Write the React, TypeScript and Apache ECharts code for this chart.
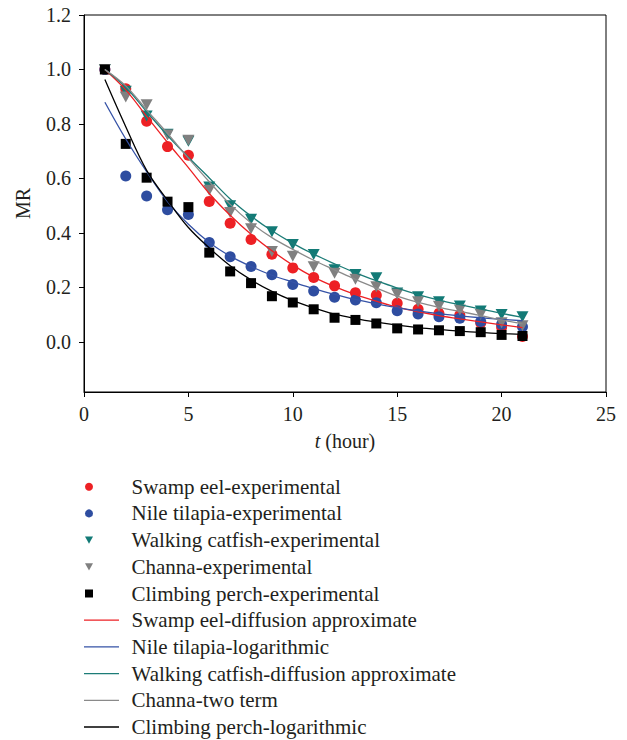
import React, { useEffect, useRef } from "react";
import * as echarts from "echarts";

const FONT = "Liberation Serif";

const hours = [1, 2, 3, 4, 5, 6, 7, 8, 9, 10, 11, 12, 13, 14, 15, 16, 17, 18, 19, 20, 21];

// Experimental moisture ratio values
const swampEelExp = [1.0, 0.929, 0.81, 0.717, 0.685, 0.516, 0.436, 0.376, 0.322, 0.272, 0.237, 0.206, 0.181, 0.172, 0.142, 0.12, 0.105, 0.099, 0.07, 0.054, 0.02];
const nileTilapiaExp = [1.0, 0.609, 0.536, 0.485, 0.468, 0.365, 0.313, 0.277, 0.247, 0.211, 0.187, 0.164, 0.154, 0.144, 0.115, 0.103, 0.093, 0.087, 0.075, 0.065, 0.056];
const walkingCatfishExp = [1.0, 0.92, 0.829, 0.762, 0.737, 0.569, 0.5, 0.45, 0.405, 0.358, 0.321, 0.265, 0.248, 0.236, 0.18, 0.166, 0.148, 0.132, 0.114, 0.101, 0.093];
const channaExp = [1.0, 0.899, 0.871, 0.76, 0.74, 0.557, 0.475, 0.416, 0.332, 0.315, 0.276, 0.252, 0.23, 0.203, 0.175, 0.148, 0.131, 0.117, 0.101, 0.071, 0.06];
const climbingPerchExp = [1.0, 0.727, 0.603, 0.515, 0.495, 0.328, 0.259, 0.216, 0.168, 0.145, 0.12, 0.089, 0.081, 0.068, 0.05, 0.046, 0.043, 0.04, 0.036, 0.026, 0.022];

// Model curves
const swampEelFit = [1.0, 0.925, 0.828, 0.732, 0.64, 0.545, 0.465, 0.395, 0.335, 0.282, 0.238, 0.203, 0.174, 0.15, 0.128, 0.111, 0.097, 0.085, 0.074, 0.063, 0.053];
const nileTilapiaFit = [0.88, 0.745, 0.625, 0.515, 0.432, 0.365, 0.315, 0.277, 0.245, 0.22, 0.196, 0.175, 0.156, 0.14, 0.126, 0.114, 0.104, 0.096, 0.089, 0.083, 0.078];
const walkingCatfishFit = [1.0, 0.935, 0.845, 0.758, 0.678, 0.602, 0.525, 0.462, 0.408, 0.362, 0.322, 0.287, 0.254, 0.225, 0.198, 0.174, 0.154, 0.137, 0.121, 0.105, 0.09];
const channaFit = [1.0, 0.94, 0.852, 0.765, 0.675, 0.588, 0.505, 0.437, 0.383, 0.34, 0.3, 0.265, 0.23, 0.198, 0.168, 0.145, 0.127, 0.112, 0.097, 0.081, 0.067];
const climbingPerchFit = [0.963, 0.79, 0.63, 0.52, 0.42, 0.345, 0.28, 0.228, 0.186, 0.152, 0.125, 0.102, 0.086, 0.073, 0.062, 0.053, 0.046, 0.04, 0.035, 0.031, 0.028];

const yTicks = [0, 0.2, 0.4, 0.6, 0.8, 1.0, 1.2];

const expNames = [
  "Swamp eel-experimental",
  "Nile tilapia-experimental",
  "Walking catfish-experimental",
  "Channa-experimental",
  "Climbing perch-experimental",
];
const fitNames = [
  "Swamp eel-diffusion approximate",
  "Nile tilapia-logarithmic",
  "Walking catfish-diffusion approximate",
  "Channa-two term",
  "Climbing perch-logarithmic",
];

const RED = "#ED2024";
const BLUE = "#2E4DA0";
const TEAL = "#127A76";
const GREY = "#808080";
const BLACK = "#000000";

const DOWN_TRIANGLE = "path://M0,0 L10,0 L5,9 Z";
const LINE_ICON = "path://M0,0 H35 V1.3 H0 Z";

const pairs = (ys: number[]) => ys.map((v, i) => [hours[i], v]);

export default function App() {
  const ref = useRef<HTMLDivElement>(null);
  useEffect(() => {
    if (!ref.current) return;
    const chart = echarts.init(ref.current, null, { renderer: "svg" });
    const scatter = (name: string, data: number[], color: string, symbol: string, size: any, rotate = 0) => ({
      name,
      type: "scatter",
      data: pairs(data),
      symbol,
      symbolSize: size,
      symbolRotate: rotate,
      itemStyle: { color, opacity: 1 },
      z: 3,
    });
    const line = (name: string, data: number[], color: string) => ({
      name,
      type: "line",
      data: pairs(data),
      smooth: 0.35,
      showSymbol: false,
      symbol: "none",
      lineStyle: { color, width: 1.3 },
      itemStyle: { color },
      z: 4,
    });
    const legendBase = {
      orient: "vertical",
      padding: 0,
      itemGap: 4.7,
      selectedMode: false,
      textStyle: { fontFamily: FONT, fontSize: 21, color: "#231f20", lineHeight: 22 },
    };
    chart.setOption({
      animation: false,
      textStyle: { fontFamily: FONT },
      grid: {
        left: 84,
        top: 15,
        width: 522,
        height: 377,
        show: true,
        borderColor: "#000",
        borderWidth: 1,
      },
      legend: [
        {
          ...legendBase,
          data: [
            { name: expNames[0], icon: "circle" },
            { name: expNames[1], icon: "circle" },
            { name: expNames[2], icon: DOWN_TRIANGLE },
            { name: expNames[3], icon: DOWN_TRIANGLE },
            { name: expNames[4], icon: "rect" },
          ],
          left: 85,
          top: 475.7,
          itemWidth: 8,
          itemHeight: 8,
          textStyle: { ...legendBase.textStyle, padding: [0, 0, 0, 33.5] },
        },
        {
          ...legendBase,
          data: fitNames.map((n) => ({ name: n, icon: LINE_ICON })),
          left: 84,
          top: 609.2,
          itemWidth: 35,
          itemHeight: 8,
          textStyle: { ...legendBase.textStyle, padding: [0, 0, 0, 7.5] },
        },
      ],
      xAxis: {
        type: "value",
        min: 0,
        max: 25,
        interval: 5,
        axisLine: { show: true, onZero: false, lineStyle: { color: "#000", width: 1 } },
        axisTick: { show: true, length: 5, lineStyle: { color: "#000" } },
        axisLabel: { color: "#231f20", fontSize: 20, fontFamily: FONT, margin: 12 },
        splitLine: { show: false },
        name: "{i|t} (hour)",
        nameLocation: "middle",
        nameGap: 39,
        nameTextStyle: {
          color: "#231f20",
          fontSize: 20,
          fontFamily: FONT,
          rich: { i: { fontStyle: "italic", fontSize: 20, fontFamily: FONT, color: "#231f20" } },
        },
      },
      yAxis: {
        type: "value",
        min: -0.1835,
        max: 1.2,
        axisLine: { show: true, onZero: false, lineStyle: { color: "#000", width: 1 } },
        axisTick: { show: true, length: 5, lineStyle: { color: "#000" }, customValues: yTicks },
        axisLabel: {
          color: "#231f20",
          fontSize: 20,
          fontFamily: FONT,
          margin: 13,
          customValues: yTicks,
          formatter: (v: number) => v.toFixed(1),
        },
        splitLine: { show: false },
        name: "MR",
        nameLocation: "middle",
        nameGap: 51,
        nameTextStyle: { color: "#231f20", fontSize: 20, fontFamily: FONT },
      },
      series: [
        scatter(expNames[0], swampEelExp, RED, "circle", 11),
        scatter(expNames[1], nileTilapiaExp, BLUE, "circle", 11),
        scatter(expNames[2], walkingCatfishExp, TEAL, "triangle", [12, 11], 180),
        scatter(expNames[3], channaExp, GREY, "triangle", [12, 11], 180),
        scatter(expNames[4], climbingPerchExp, BLACK, "rect", 10),
        line(fitNames[0], swampEelFit, RED),
        line(fitNames[1], nileTilapiaFit, "#3552A6"),
        line(fitNames[2], walkingCatfishFit, "#1C7C77"),
        line(fitNames[3], channaFit, "#8A8A8A"),
        line(fitNames[4], climbingPerchFit, BLACK),
      ],
    });
    return () => chart.dispose();
  }, []);
  return (
    <div
      ref={ref}
      style={{ position: "absolute", left: 0, top: 0, width: 627, height: 740, background: "#fff" }}
    />
  );
}
